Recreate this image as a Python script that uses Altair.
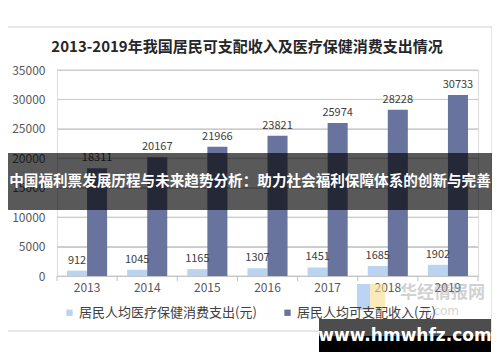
import altair as alt
import pandas as pd

# ---- data ----
years = ["2013", "2014", "2015", "2016", "2017", "2018", "2019"]
series_names = ["居民人均医疗保健消费支出(元)", "居民人均可支配收入(元)"]
medical = [912, 1045, 1165, 1307, 1451, 1685, 1902]
income = [18311, 20167, 21966, 23821, 25974, 28228, 30733]
colors = ["#b9d3f0", "#68749e"]
y_ticks = [0, 5000, 10000, 15000, 20000, 25000, 30000, 35000]

title_text = "2013-2019年我国居民可支配收入及医疗保健消费支出情况"
banner_text = "中国福利票发展历程与未来趋势分析：助力社会福利保障体系的创新与完善"
wm_text = "www.hmwhfz.com"
logo_text = "华经情报网"

rows = []
for i, y in enumerate(years):
    rows.append({"year": y, "series": series_names[0], "value": medical[i]})
    rows.append({"year": y, "series": series_names[1], "value": income[i]})
df = pd.DataFrame(rows)
df_years = pd.DataFrame({"year": years})
df_grid = pd.DataFrame({"value": y_ticks})
one = pd.DataFrame({"k": [0]})

W, H = 421, 206
FONT = "Noto Sans CJK SC"

x_enc = alt.X(
    "year:N",
    sort=years,
    scale=alt.Scale(paddingInner=1 / 3, paddingOuter=1 / 6),
    axis=alt.Axis(
        title=None, labelAngle=0, labelFontSize=12, labelColor="#595959",
        labelFont=FONT, ticks=False, domainColor="#bfbfbf", labelPadding=6,
    ),
)
y_scale = alt.Scale(domain=[0, 35000], nice=False)
y_axis = alt.Axis(
    title=None, values=y_ticks, format="d", grid=True, gridColor="#cccccc",
    domain=False, ticks=False, labelPadding=12, labelFontSize=12,
    labelColor="#595959", labelFont=FONT, labelOverlap=False, tickCount=8,
)
color_enc = alt.Color(
    "series:N",
    scale=alt.Scale(domain=series_names, range=colors),
    legend=alt.Legend(
        title=None, orient="none", legendX=6, legendY=236, direction="horizontal",
        symbolType="square", symbolSize=40, symbolStrokeWidth=0,
        labelFontSize=13, labelFont=FONT, labelColor="#404040", labelLimit=400,
        columnPadding=24, labelOffset=3,
    ),
)

grid = alt.Chart(df_grid).mark_rule(color="#cccccc", strokeWidth=1).encode(
    y=alt.Y("value:Q", scale=y_scale, axis=y_axis), x=alt.value(0), x2=alt.value(W)
)

bars = alt.Chart(df).mark_bar().encode(
    x=x_enc,
    xOffset=alt.XOffset("series:N", sort=series_names, scale=alt.Scale(domain=series_names)),
    y=alt.Y("value:Q", scale=y_scale, axis=y_axis),
    color=color_enc,
)

labels = alt.Chart(df).mark_text(
    baseline="bottom", dy=-5, fontSize=11, color="#404040", font=FONT
).encode(
    x=alt.X("year:N", sort=years),
    xOffset=alt.XOffset("series:N", sort=series_names, scale=alt.Scale(domain=series_names)),
    y=alt.Y("value:Q", scale=y_scale, axis=y_axis),
    text=alt.Text("value:Q", format="d"),
)

ticks = alt.Chart(df_years).mark_rule(color="#bfbfbf", xOffset=-10).encode(
    x=alt.X("year:N", sort=years, bandPosition=0),
    y=alt.value(H), y2=alt.value(H + 5),
)
last_tick = alt.Chart(one).mark_rule(color="#bfbfbf").encode(
    x=alt.value(W), y=alt.value(H), y2=alt.value(H + 5)
)

border = alt.Chart(one).mark_rect(fillOpacity=0, stroke="#cfcfcf", strokeWidth=1).encode(
    x=alt.value(-53), x2=alt.value(435), y=alt.value(-43), y2=alt.value(261)
)

title = alt.Chart(one).mark_text(
    fontSize=15, fontWeight="bold", color="#262626", font=FONT, align="center", baseline="middle"
).encode(x=alt.value(190), y=alt.value(-23), text=alt.value(title_text))

logo_blue = alt.Chart(one).mark_rect(color="#8fb8ec", opacity=0.6).encode(
    x=alt.value(300), x2=alt.value(313), y=alt.value(214), y2=alt.value(240)
)
logo_yellow = alt.Chart(one).mark_rect(color="#f5de8a", opacity=0.6).encode(
    x=alt.value(313), x2=alt.value(328), y=alt.value(214), y2=alt.value(240)
)
logo_txt = alt.Chart(one).mark_text(
    fontSize=17, fontWeight="bold", color="#9a9a9a", opacity=0.45, font=FONT, align="left", baseline="middle"
).encode(x=alt.value(343), y=alt.value(223), text=alt.value(logo_text))
logo_sub = alt.Chart(one).mark_text(
    fontSize=12, color="#aaaaaa", opacity=0.5, font="DejaVu Sans", align="left", baseline="middle"
).encode(x=alt.value(365), y=alt.value(241), text=alt.value("n.com"))

banner = alt.Chart(one).mark_rect(color="black", opacity=0.65).encode(
    x=alt.value(-57), x2=alt.value(443), y=alt.value(83), y2=alt.value(140)
)
banner_txt = alt.Chart(one).mark_text(
    fontSize=14.6, fontWeight="bold", color="white", font=FONT, align="center", baseline="middle"
).encode(x=alt.value(193), y=alt.value(112), text=alt.value(banner_text))

wm_top = alt.Chart(one).mark_rect(color="#4d4d4d").encode(
    x=alt.value(262), x2=alt.value(434), y=alt.value(249), y2=alt.value(266)
)
wm_bot = alt.Chart(one).mark_rect(color="black").encode(
    x=alt.value(262), x2=alt.value(434), y=alt.value(266), y2=alt.value(282)
)
wm_txt = alt.Chart(one).mark_text(
    fontSize=17, fontWeight="bold", color="white", font="DejaVu Sans", align="center", baseline="middle"
).encode(x=alt.value(348), y=alt.value(266), text=alt.value(wm_text))

chart = alt.layer(
    grid, bars, labels, ticks, last_tick, border, title,
    logo_blue, logo_yellow, logo_txt, logo_sub,
    banner, banner_txt, wm_top, wm_bot, wm_txt,
).properties(
    width=W, height=H,
    autosize=alt.AutoSizeParams(type="none"),
    padding={"left": 49, "top": 62, "right": 14, "bottom": 78},
).configure_view(stroke=None).configure(background="white")

chart.save("out.html", embed_options={"renderer": "svg", "actions": False})
